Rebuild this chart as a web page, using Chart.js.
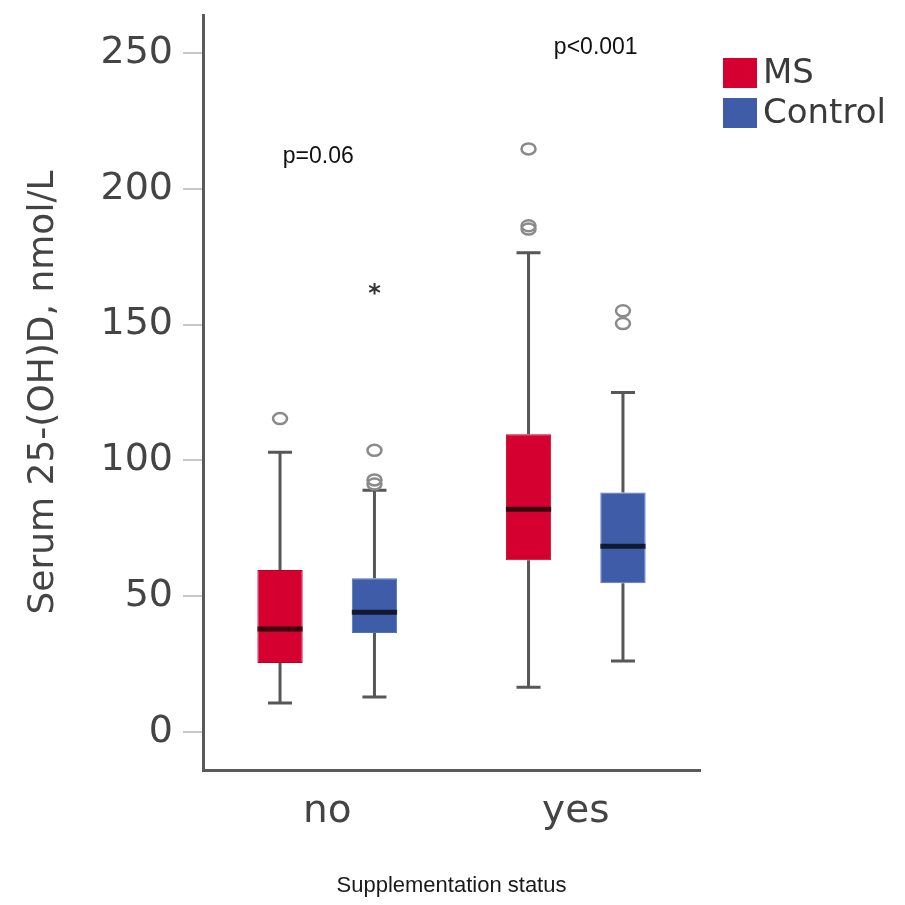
<!DOCTYPE html>
<html>
<head>
<meta charset="utf-8">
<script src="https://cdn.jsdelivr.net/npm/chart.js@4"></script>
<style>
  html, body { margin: 0; padding: 0; background: #fff; }
  #wrap { width: 905px; height: 905px; }
</style>
</head>
<body>
<div id="wrap"><canvas id="chart"></canvas></div>
<script>
// Data
const categories = ["no", "yes"];
const yTicks = [0, 50, 100, 150, 200, 250];

const msMin = [10.7, 16.5];
const msQ1 = [25.4, 63.2];
const msMedian = [37.9, 82.0];
const msQ3 = [59.6, 109.6];
const msMax = [103.0, 176.5];
const msOutliers = [[115.4], [185.2, 186.4, 214.7]];
const msExtremes = [[], []];

const ctrlMin = [12.9, 26.1];
const ctrlQ1 = [36.4, 54.8];
const ctrlMedian = [44.1, 68.4];
const ctrlQ3 = [56.6, 88.2];
const ctrlMax = [89.0, 125.0];
const ctrlOutliers = [[91.3, 92.8, 103.7], [150.4, 155.1]];
const ctrlExtremes = [[163.0], []];

const pLabels = ["p=0.06", "p<0.001"];
const pValuesY = [212, 252];

const MS_RED = "#d5002f";
const CTRL_BLUE = "#3f5ca9";

const stats = [
  { min: msMin, med: msMedian, max: msMax, out: msOutliers, ext: msExtremes },
  { min: ctrlMin, med: ctrlMedian, max: ctrlMax, out: ctrlOutliers, ext: ctrlExtremes },
];

// whiskers, medians, outliers, p-values and legend
const boxExtras = {
  id: "boxExtras",
  afterDatasetsDraw(chart) {
    const ctx = chart.ctx;
    const y = chart.scales.y;
    ctx.save();
    stats.forEach((s, di) => {
      const meta = chart.getDatasetMeta(di);
      meta.data.forEach((bar, i) => {
        const cx = bar.x;
        const half = bar.width / 2;
        const yTop = Math.min(bar.y, bar.base);
        const yBot = Math.max(bar.y, bar.base);
        const yMax = y.getPixelForValue(s.max[i]);
        const yMin = y.getPixelForValue(s.min[i]);
        ctx.strokeStyle = "#575757";
        ctx.lineWidth = 3;
        ctx.beginPath();
        ctx.moveTo(cx, yTop); ctx.lineTo(cx, yMax);
        ctx.moveTo(cx, yBot); ctx.lineTo(cx, yMin);
        ctx.moveTo(cx - 12, yMax); ctx.lineTo(cx + 12, yMax);
        ctx.moveTo(cx - 12, yMin); ctx.lineTo(cx + 12, yMin);
        ctx.stroke();

        const ym = y.getPixelForValue(s.med[i]);
        ctx.strokeStyle = "rgba(0,0,0,0.72)";
        ctx.lineWidth = 5;
        ctx.beginPath();
        ctx.moveTo(cx - half, ym); ctx.lineTo(cx + half, ym);
        ctx.stroke();

        ctx.strokeStyle = "#8a8a8a";
        ctx.lineWidth = 2.5;
        s.out[i].forEach(v => {
          ctx.beginPath();
          ctx.ellipse(cx, y.getPixelForValue(v), 7, 5.5, 0, 0, Math.PI * 2);
          ctx.stroke();
        });
        ctx.fillStyle = "#333";
        ctx.font = "bold 24px 'DejaVu Sans'";
        ctx.textAlign = "center";
        ctx.textBaseline = "middle";
        s.ext[i].forEach(v => {
          ctx.fillText("*", cx, y.getPixelForValue(v) + 5);
        });
      });
    });

    // p-values over each group
    ctx.fillStyle = "#111";
    ctx.font = "23px 'Liberation Sans'";
    ctx.textAlign = "center";
    ctx.textBaseline = "middle";
    categories.forEach((c, i) => {
      const x = chart.scales.x.getPixelForValue(i);
      ctx.fillText(pLabels[i], x + (i === 0 ? -9 : 20), y.getPixelForValue(pValuesY[i]));
    });

    // legend
    const items = [["MS", MS_RED], ["Control", CTRL_BLUE]];
    ctx.font = "34px 'DejaVu Sans'";
    ctx.textAlign = "left";
    items.forEach((it, k) => {
      const top = 58 + k * 40;
      ctx.fillStyle = it[1];
      ctx.fillRect(723, top, 34, 30);
      ctx.fillStyle = "#3a3a3a";
      ctx.fillText(it[0], 763, top + 16);
    });
    ctx.restore();
  },
};

const ctx = document.getElementById("chart").getContext("2d");
const chart = new Chart(ctx, {
  type: "bar",
  data: {
    labels: categories,
    datasets: [
      {
        label: "MS",
        data: msQ1.map((q, i) => [q, msQ3[i]]),
        backgroundColor: MS_RED,
        borderColor: "#b8002a",
        borderWidth: 1,
        borderSkipped: false,
      },
      {
        label: "Control",
        data: ctrlQ1.map((q, i) => [q, ctrlQ3[i]]),
        backgroundColor: CTRL_BLUE,
        borderColor: "#5470b8",
        borderWidth: 1,
        borderSkipped: false,
      },
    ],
  },
  options: {
    responsive: true,
    maintainAspectRatio: false,
    animation: false,
    layout: { padding: { top: 15, right: 205, left: 18, bottom: 0 } },
    datasets: { bar: { categoryPercentage: 0.76, barPercentage: 0.48 } },
    plugins: {
      legend: { display: false },
      tooltip: { enabled: false },
    },
    scales: {
      x: {
        grid: { display: false },
        border: { display: true, color: "#5a5a5a", width: 3 },
        ticks: {
          color: "#444",
          font: { family: "DejaVu Sans", size: 39 },
          padding: 10,
        },
        title: {
          display: true,
          text: "Supplementation status",
          color: "#1a1a1a",
          font: { family: "Liberation Sans", size: 22 },
          padding: { top: 0, bottom: 6 },
        },
        afterFit(scale) {
          scale.height = 135;
          scale.paddingLeft = 0;
          scale.paddingRight = 0;
        },
      },
      y: {
        min: -14,
        max: 264,
        afterBuildTicks(scale) { scale.ticks = yTicks.map(v => ({ value: v })); },
        grid: { drawOnChartArea: false, tickLength: 20, tickColor: "#c8c8c8", lineWidth: 2 },
        border: { display: true, color: "#5a5a5a", width: 3 },
        ticks: {
          color: "#444",
          font: { family: "DejaVu Sans", size: 38 },
          padding: 10,
        },
        title: {
          display: true,
          text: "Serum 25-(OH)D, nmol/L",
          color: "#444",
          font: { family: "DejaVu Sans", size: 36 },
          padding: { top: 4, bottom: 0 },
        },
        afterFit(scale) {
          scale.width = 185;
          scale.paddingTop = 0;
          scale.paddingBottom = 0;
        },
      },
    },
  },
  plugins: [boxExtras],
});
</script>
</body>
</html>
